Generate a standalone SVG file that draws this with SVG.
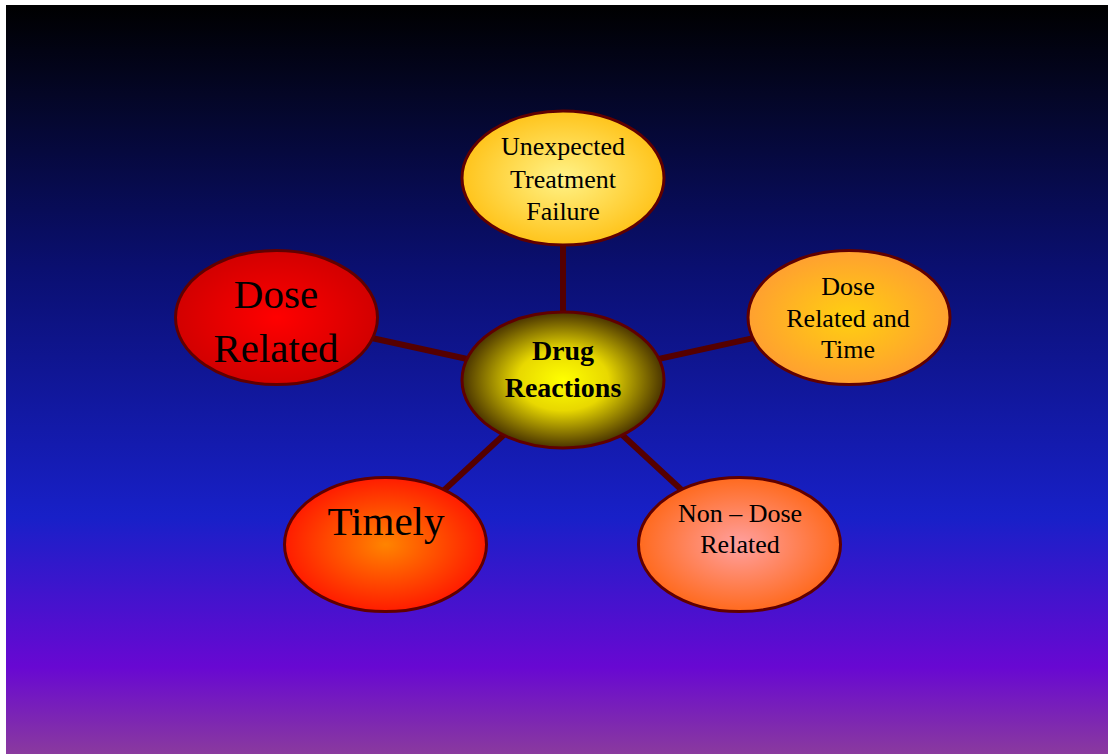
<svg xmlns="http://www.w3.org/2000/svg" width="1108" height="754" viewBox="0 0 1108 754">
<defs>
<linearGradient id="bg" x1="0" y1="0" x2="0" y2="1">
<stop offset="0" stop-color="#000000"/>
<stop offset="0.12" stop-color="#040626"/>
<stop offset="0.35" stop-color="#0a0f70"/>
<stop offset="0.684" stop-color="#1820c8"/>
<stop offset="0.884" stop-color="#6808d2"/>
<stop offset="1" stop-color="#8a3a9e"/>
</linearGradient>
<radialGradient id="gTop"><stop offset="0" stop-color="#fff388"/><stop offset="1" stop-color="#ffc41c"/></radialGradient>
<radialGradient id="gCenter"><stop offset="0" stop-color="#ffff00"/><stop offset="0.45" stop-color="#e8d800"/><stop offset="1" stop-color="#4a3400"/></radialGradient>
<radialGradient id="gDose"><stop offset="0" stop-color="#ff0000"/><stop offset="1" stop-color="#d20000"/></radialGradient>
<radialGradient id="gTime"><stop offset="0" stop-color="#ffd010"/><stop offset="1" stop-color="#ffa030"/></radialGradient>
<radialGradient id="gTimely"><stop offset="0" stop-color="#ff8400"/><stop offset="1" stop-color="#ff1c00"/></radialGradient>
<radialGradient id="gNon"><stop offset="0" stop-color="#ffa0a0"/><stop offset="1" stop-color="#ff6a1e"/></radialGradient>
<style>
.node{stroke:#600000;stroke-width:3}
.t{font-family:"Liberation Serif","Times New Roman",serif;fill:#000;text-anchor:middle}
.s26{font-size:26px}
.s41{font-size:41px}
.b{font-size:28px;font-weight:bold}
.conn line{stroke:#550000;stroke-width:6}
</style>
</defs>
<rect x="6" y="5" width="1102" height="749" fill="url(#bg)"/>
<g id="connectors" class="conn">
<line x1="563" y1="380" x2="563" y2="178"/>
<line x1="563" y1="380" x2="276" y2="317"/>
<line x1="563" y1="380" x2="849" y2="317"/>
<line x1="563" y1="380" x2="386" y2="544"/>
<line x1="563" y1="380" x2="740" y2="544"/>
</g>
<g id="node-top">
<ellipse class="node" cx="563" cy="178" rx="101" ry="67" fill="url(#gTop)"/>
<text class="t s26" x="563" y="155">Unexpected</text>
<text class="t s26" x="563" y="188">Treatment</text>
<text class="t s26" x="563" y="220">Failure</text>
</g>
<g id="node-dose">
<ellipse class="node" cx="276.5" cy="317.5" rx="101" ry="67" fill="url(#gDose)"/>
<text class="t s41" x="276" y="308">Dose</text>
<text class="t s41" x="276" y="362">Related</text>
</g>
<g id="node-dosetime">
<ellipse class="node" cx="849" cy="317.5" rx="101" ry="67" fill="url(#gTime)"/>
<text class="t s26" x="848" y="295">Dose</text>
<text class="t s26" x="848" y="327">Related and</text>
<text class="t s26" x="848" y="358">Time</text>
</g>
<g id="node-timely">
<ellipse class="node" cx="385.5" cy="544.5" rx="101" ry="67" fill="url(#gTimely)"/>
<text class="t s41" x="386" y="535">Timely</text>
</g>
<g id="node-nondose">
<ellipse class="node" cx="739.5" cy="544.5" rx="101" ry="67" fill="url(#gNon)"/>
<text class="t s26" x="740" y="522">Non – Dose</text>
<text class="t s26" x="740" y="553">Related</text>
</g>
<g id="node-center">
<ellipse class="node" cx="563" cy="380" rx="101" ry="68" fill="url(#gCenter)"/>
<text class="t b" x="563" y="360">Drug</text>
<text class="t b" x="563" y="397">Reactions</text>
</g>
</svg>
